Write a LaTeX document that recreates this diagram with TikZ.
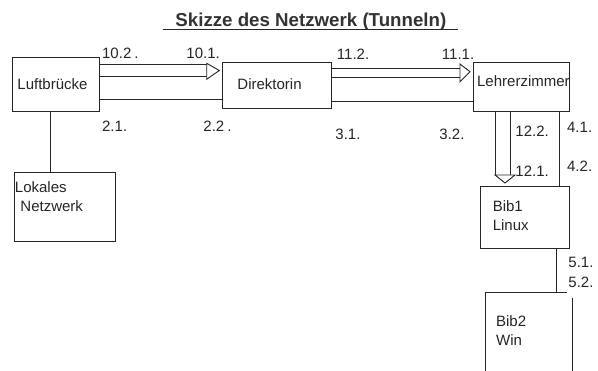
\documentclass[tikz,border=0pt]{standalone}
\usepackage{fontspec}
\setmainfont{Liberation Sans}
\begin{document}
\begin{tikzpicture}[x=1pt,y=-1pt,
  line width=0.9pt, draw=black!85,
  box/.style={draw=black!85, rectangle, inner sep=0pt, anchor=north west},
  txt/.style={inner sep=0pt, anchor=base west, font=\fontsize{15}{18}\selectfont, text=black!85},
  lbl/.style={inner sep=0pt, anchor=base west, font=\fontsize{15}{18}\selectfont, text=black!85},
  head/.style={draw=black!85, fill=white, line join=miter}]
\useasboundingbox[fill=white] (0,0) rectangle (598,371);

% title
\node[inner sep=0pt, anchor=base west, font=\fontsize{18.7}{20}\bfseries\selectfont, text=black!80] (title) at (175,26.5) {Skizze des Netzwerk (Tunneln)};
\draw[line width=1.2pt] (163,29.3) -- (458,29.3);

% boxes
\node[box, minimum width=87pt, minimum height=54pt] (L) at (12,56.7) {};
\node[box, minimum width=108.7pt, minimum height=46.6pt] (D) at (222.3,61.7) {};
\node[box, minimum width=96pt, minimum height=48.7pt] (Lz) at (473.3,62.3) {};
\node[box, minimum width=101pt, minimum height=69.3pt] (LN) at (14.3,171.7) {};
\node[box, minimum width=89.3pt, minimum height=62.3pt] (B1) at (480,186) {};
\coordinate (B2) at (485,292.7);
\draw (572.3,298) -- (572.3,380);
\draw (566.7,292.7) -- (B2) -- (485,380);

% texts
\node[txt] (tL) at (17,90) {Luftbrücke};
\node[txt] (tD) at (237,90) {Direktorin};
\node[txt] (tLz) at (476.7,87) {Lehrerzimmer};
\node[txt] (tLN1) at (14.5,193) {Lokales};
\node[txt] (tLN2) at (20,211.7) {Netzwerk};
\node[txt] (tB11) at (492.3,211.7) {Bib1};
\node[txt] (tB12) at (492.3,230.7) {Linux};
\node[txt] (tB21) at (495.7,326.7) {Bib2};
\node[txt] (tB22) at (495.7,345.7) {Win};

% connectors
\draw (L.south -| 50,0) -- (LN.north -| 50,0);
% L -> D tunnel
\coordinate (a1) at (206.7,71.3);
\draw (L.east |- 0,64) -- (a1 |- 0,64);
\draw (L.east |- 0,76.7) -- (a1 |- 0,76.7);
\draw[head] (206.7,63.3) -- (219.3,70.5) -- (206.7,79.3) -- cycle;
\draw (L.east |- 0,99.3) -- (D.west |- 0,99.3);
% D -> Lz tunnel
\coordinate (a2) at (460,72);
\draw (D.east |- 0,68.3) -- (a2 |- 0,68.3);
\draw (D.east |- 0,77.3) -- (a2 |- 0,77.3);
\draw[head] (460,64) -- (470,71.7) -- (460,81.7) -- cycle;
\draw (D.east |- 0,101) -- (Lz.west |- 0,101);
% Lz -> B1 tunnel
\coordinate (a3) at (505,175);
\draw (Lz.south -| 495.7,0) -- (495.7,175);
\draw (Lz.south -| 510.7,0) -- (510.7,175);
\draw[head] (495,175) -- (515,175) -- (505,183) -- cycle;
\draw (Lz.south -| 559.3,0) -- (B1.north -| 559.3,0);
% B1 - B2
\draw (B1.south -| 556.7,0) -- (B2 -| 556.7,0);

% labels
\node[lbl] (l102) at (101.7,59) {10.2\kern3pt.};
\node[lbl] (l101) at (186,59) {10.1.};
\node[lbl] (l21) at (101.7,132) {2.1.};
\node[lbl] (l22) at (203,132) {2.2\kern3pt.};
\node[lbl] (l112) at (336.5,60) {11.2.};
\node[lbl] (l111) at (441.5,60) {11.1.};
\node[lbl] (l31) at (335,140) {3.1.};
\node[lbl] (l32) at (439,140) {3.2.};
\node[lbl] (l122) at (515,137) {12.2.};
\node[lbl] (l121) at (515,177) {12.1.};
\node[lbl] (l41) at (566.7,133) {4.1.};
\node[lbl] (l42) at (566.7,172) {4.2.};
\node[lbl] (l51) at (568,268) {5.1.};
\node[lbl] (l52) at (568,288) {5.2.};
\end{tikzpicture}
\end{document}
